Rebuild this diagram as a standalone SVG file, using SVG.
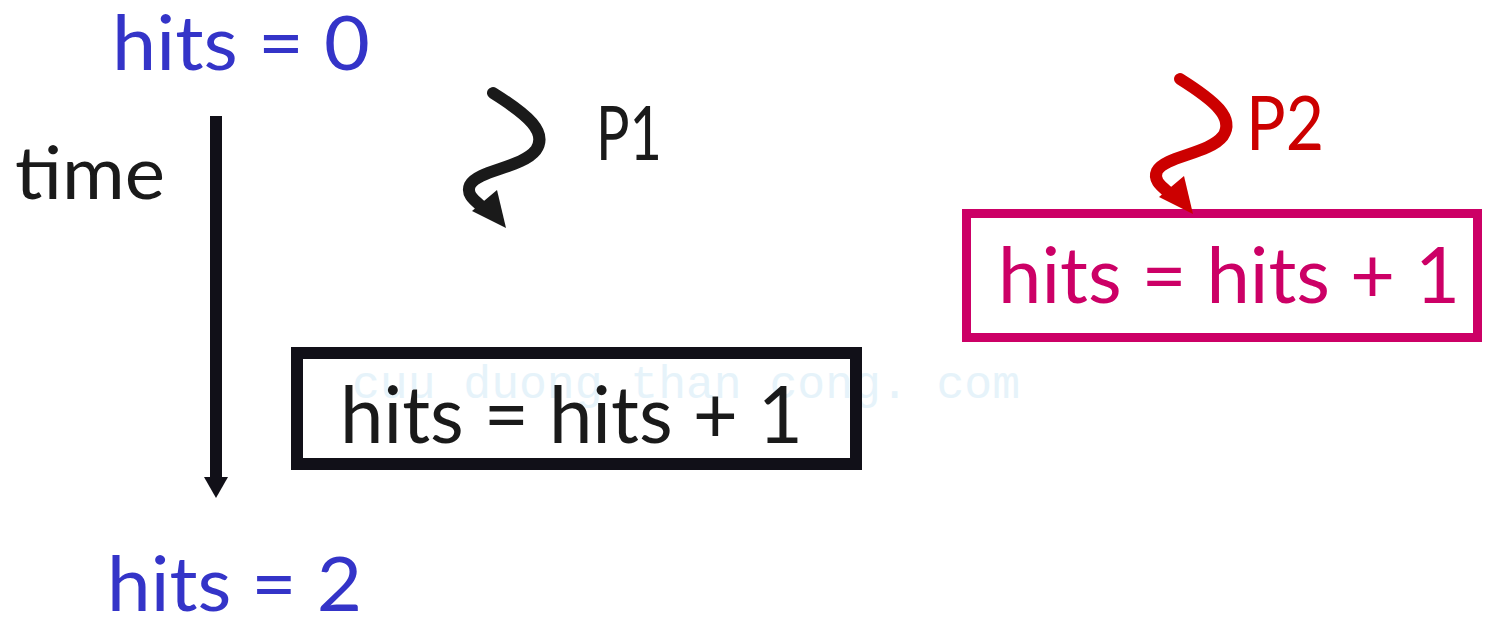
<svg xmlns="http://www.w3.org/2000/svg" width="1490" height="617" viewBox="0 0 1490 617">
<defs>
<style>
text{font-family:Lato,"Open Sans","DejaVu Sans",sans-serif;}
.blue{fill:#3434c8;font-size:76px;}
.blk{fill:#1a1a1a;font-size:78px;}
.pink{fill:#cc0066;font-size:78px;}
.red{fill:#cc0000;font-size:76px;}
.wm{fill:#e6f3fa;font-family:"Liberation Mono","DejaVu Sans Mono",monospace;font-size:46px;}
.sq{fill:none;stroke-width:12;stroke-linecap:round;stroke-linejoin:round;}
</style>
<marker id="ah" markerWidth="22" markerHeight="26" refX="1" refY="13" orient="auto" markerUnits="userSpaceOnUse" viewBox="0 0 22 26">
<path d="M0,1 L21,13 L0,25 Z" fill="#111018"/>
</marker>
</defs>
<rect width="1490" height="617" fill="#fff"/>
<text class="wm" x="352" y="398" textLength="668" lengthAdjust="spacingAndGlyphs">cuu duong than cong. com</text>
<g id="hits0"><text class="blue" x="112" y="70" textLength="258" lengthAdjust="spacingAndGlyphs">hits = 0</text></g>
<g id="hits2"><text class="blue" x="107" y="611" textLength="255" lengthAdjust="spacingAndGlyphs">hits = 2</text></g>
<g id="time"><text class="blk" x="15" y="199" textLength="150" lengthAdjust="spacingAndGlyphs" style="font-size:74px">time</text></g>
<g id="p1label"><text class="blk" x="596" y="160" textLength="66" lengthAdjust="spacingAndGlyphs" style="font-size:76px">P1</text></g>
<g id="p2label"><text class="red" x="1246" y="150" textLength="78" lengthAdjust="spacingAndGlyphs">P2</text></g>
<g id="box1">
<rect x="297" y="353" width="559" height="111" fill="none" stroke="#111018" stroke-width="12"/>
<text class="blk" x="340" y="443" textLength="463" lengthAdjust="spacingAndGlyphs" style="font-size:80px">hits = hits + 1</text>
</g>
<g id="box2">
<rect x="966.5" y="213.5" width="511" height="124" fill="none" stroke="#cc0066" stroke-width="9"/>
<text class="pink" x="998" y="303" textLength="462" lengthAdjust="spacingAndGlyphs">hits = hits + 1</text>
</g>
<g id="connectors">
<line x1="216" y1="116" x2="216" y2="478" stroke="#111018" stroke-width="12" marker-end="url(#ah)"/>
<g id="p1arrow">
<path class="sq" stroke="#1a1a1a" d="M493,93 C528,115 548,132 536,150 C522,168 478,170 470,185 C466,194 474,200 480,205"/>
<polygon fill="#1a1a1a" points="472,211 497,190 506,228"/>
</g>
<g id="p2arrow" transform="translate(687,-14)">
<path class="sq" stroke="#cc0000" d="M493,93 C528,115 548,132 536,150 C522,168 478,170 470,185 C466,194 474,200 480,205"/>
<polygon fill="#cc0000" points="472,211 497,190 506,228"/>
</g>
</g>
</svg>
